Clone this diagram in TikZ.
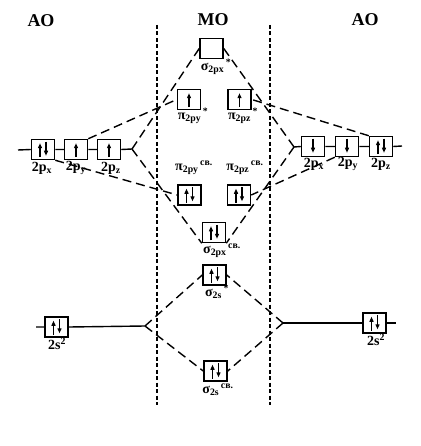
\documentclass[tikz,border=0pt]{standalone}
\usepackage{fontspec}
\setmainfont{Liberation Serif}
\usetikzlibrary{arrows.meta}

\tikzset{
  orb/.style={draw, line width=1.5pt, minimum width=23pt, minimum height=20pt, inner sep=0pt},
  lbl/.style={font=\fontsize{14}{16}\selectfont\bfseries, inner sep=0pt},
  head/.style={font=\fontsize{18}{20}\selectfont\bfseries, inner sep=0pt},
  corr/.style={line width=1.4pt, dash pattern=on 9pt off 5pt},
  lvl/.style={line width=1.4pt},
  sep/.style={line width=1.6pt, dash pattern=on 4pt off 2.5pt},
  elec/.style={line width=1.5pt, -{Triangle[length=5pt,width=4pt]}}
}
% electrons in a box
\newcommand\eup[2][0]{\draw[elec] ([xshift=#1pt]#2.south) ++(0,-3) -- ++(0,-14);}
\newcommand\edn[2][0]{\draw[elec] ([xshift=#1pt]#2.north) ++(0,3) -- ++(0,14);}
\newcommand\epair[1]{\eup[-3]{#1}\edn[3]{#1}}

\begin{document}
\begin{tikzpicture}[x=1pt, y=-1pt]
\useasboundingbox (0,0) rectangle (420,446);

% headings
\node[head] (aoL) at (41,21) {AO};
\node[head] (mo) at (213,20) {MO};
\node[head] (aoR) at (365,20) {AO};

% separators
\coordinate (sl1) at (157,25); \coordinate (sl2) at (157,405);
\coordinate (sr1) at (270,25); \coordinate (sr2) at (270,405);
\draw[sep] (sl1) -- (sl2);
\draw[sep] (sr1) -- (sr2);

% MO boxes
\node[orb] (sAp) at (211.5,48.5) {};
\node[orb] (pAy) at (189,99.5) {};
\node[orb] (pAz) at (239.5,99.5) {};
\node[orb] (pBy) at (189.5,195) {};
\node[orb] (pBz) at (239,195) {};
\node[orb] (sBp) at (214,232.5) {};
\node[orb] (sAs) at (214.5,275) {};
\node[orb] (sBs) at (215.5,371) {};

% AO boxes
\node[orb] (lpx) at (43,149.5) {};
\node[orb] (lpy) at (76,149.5) {};
\node[orb] (lpz) at (109,149.5) {};
\node[orb] (rpx) at (313,146.5) {};
\node[orb] (rpy) at (347,146.5) {};
\node[orb] (rpz) at (381,146.5) {};
\node[orb] (ls) at (56.5,327) {};
\node[orb] (rs) at (374.5,323) {};

% electrons
\eup{pAy} \eup{pAz}
\epair{lpx} \eup{lpy} \eup{lpz}
\edn{rpx} \edn{rpy} \epair{rpz}
\epair{pBy} \epair{pBz} \epair{sBp} \epair{sAs} \epair{sBs}
\epair{ls} \epair{rs}

% labels
\node[lbl] (tsAp) at (216,67) {σ\textsubscript{2px}\textsuperscript{\,*}};
\node[lbl] (tpAy) at (193,116) {π\textsubscript{2py}\textsuperscript{\,*}};
\node[lbl] (tpAz) at (243,116) {π\textsubscript{2pz}\textsuperscript{\,*}};
\node[lbl] (tpBy) at (194,168) {π\textsubscript{2py}\textsuperscript{\,св.}};
\node[lbl] (tpBz) at (245,168) {π\textsubscript{2pz}\textsuperscript{\,св.}};
\node[lbl] (tsBp) at (222,251) {σ\textsubscript{2px}\textsuperscript{\,св.}};
\node[lbl] (tsAs) at (217,292) {σ\textsubscript{2s}\textsuperscript{\,*}};
\node[lbl] (tsBs) at (218,390) {σ\textsubscript{2s}\textsuperscript{\,св.}};
\node[lbl] (tlpx) at (42,168) {2p\textsubscript{x}};
\node[lbl] (tlpy) at (76,168) {2p\textsubscript{y}};
\node[lbl] (tlpz) at (111,168) {2p\textsubscript{z}};
\node[lbl] (trpx) at (314,164) {2p\textsubscript{x}};
\node[lbl] (trpy) at (348,164) {2p\textsubscript{y}};
\node[lbl] (trpz) at (381,164) {2p\textsubscript{z}};
\node[lbl] (tls) at (57,344) {2s\textsuperscript{2}};
\node[lbl] (trs) at (376,340) {2s\textsuperscript{2}};

% level lines
\coordinate (lend) at (18,150);
\coordinate (lfk) at (132,149);
\coordinate (rfk) at (294,147);
\coordinate (rend) at (402,146);
\coordinate (lsend) at (36,327);
\coordinate (lsfk) at (145,326);
\coordinate (rsfk) at (283,323);
\coordinate (rsend) at (396,323);
\draw[lvl] (lend) -- (lpx.west) (lpx.east) -- (lpy.west) (lpy.east) -- (lpz.west) (lpz.east) -- (lfk);
\draw[lvl] (rfk) -- (rpx.west) (rpx.east) -- (rpy.west) (rpy.east) -- (rpz.west) (rpz.east) -- (rend);
\draw[lvl] (lsend) -- (ls.west) (ls.east) -- (lsfk);
\draw[lvl] (rsfk) -- (rs.west) (rs.east) -- (rsend);

% correlation lines
\draw[corr] (lfk) -- (sAp.west);
\draw[corr] (lfk) -- (sBp.south west);
\draw[corr] (lpy.north east) -- (pAy.west);
\draw[corr] (lpx.south east) -- (pBy.west);
\draw[corr] (rfk) -- (sAp.east);
\draw[corr] (rfk) -- (sBp.south east);
\draw[corr] (rpz.north west) -- (pAz.east);
\draw[corr] (rpy.south west) -- (pBz.east);
\draw[corr] (lsfk) -- (sAs.west);
\draw[corr] (lsfk) -- (sBs.west);
\draw[corr] (rsfk) -- (sAs.east);
\draw[corr] (rsfk) -- (sBs.east);
\end{tikzpicture}
\end{document}
